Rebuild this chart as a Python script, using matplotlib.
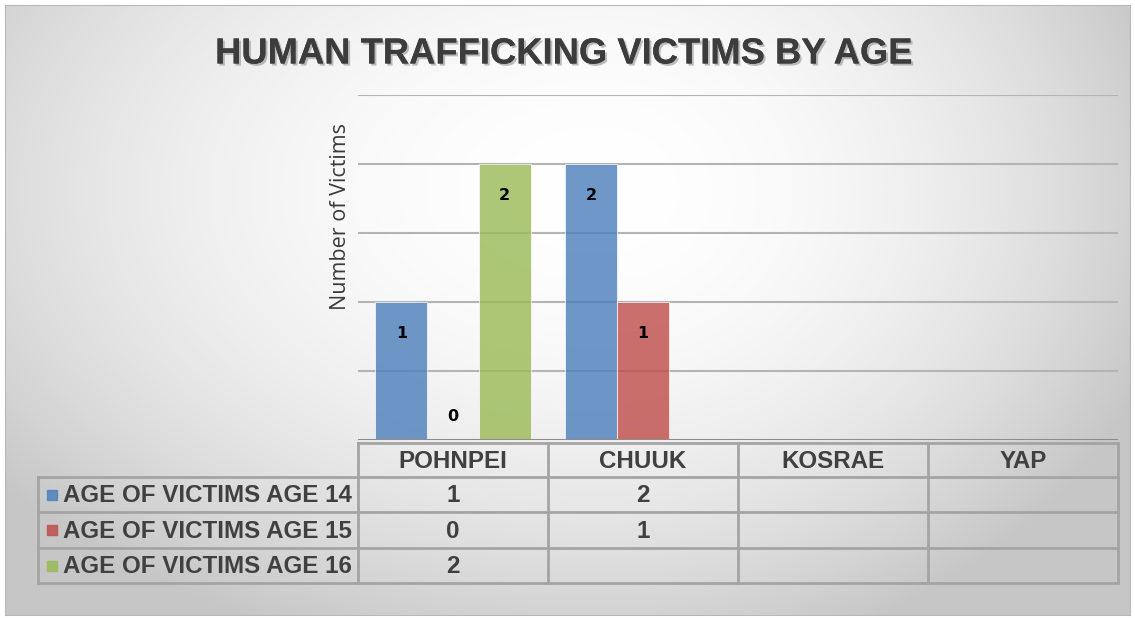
import numpy as np
import matplotlib
matplotlib.use('Agg')
import matplotlib.pyplot as plt
import matplotlib.patheffects as pe
from matplotlib.lines import Line2D
from matplotlib.patches import Rectangle

# data
regions = ['POHNPEI', 'CHUUK', 'KOSRAE', 'YAP']
series_names = ['AGE OF VICTIMS AGE 14', 'AGE OF VICTIMS AGE 15', 'AGE OF VICTIMS AGE 16']
age14 = [1, 2, None, None]
age15 = [0, 1, None, None]
age16 = [2, None, None, None]
colors = ['#4F81BD', '#C0504D', '#9BBB59']

W, H = 1135, 618
fig = plt.figure(figsize=(W / 100, H / 100), dpi=100)

def fx(x):
    return x / W

def fy(y):
    return 1 - y / H

# gradient background
bg = fig.add_axes([fx(5), fy(615), fx(1125), 610 / H], zorder=-10)
yy, xx = np.mgrid[5:615, 5:1130]
rx = np.where(xx < 600, 820.0, 640.0)
r2 = ((xx - 600) / rx) ** 2 + ((yy - 190) / 520.0) ** 2
g = np.clip(255 - 66 * r2, 198, 255) / 255.0
bg.imshow(np.dstack([g, g, g]), aspect='auto', extent=[0, 1, 0, 1])
bg.set_xticks([])
bg.set_yticks([])
for s in bg.spines.values():
    s.set_color('#b8b8b8')

ax = fig.add_axes([fx(358), fy(440), fx(1118 - 358), (440 - 95) / H])
ax.patch.set_alpha(0)
ax.set_xlim(-0.5, 3.5)
ax.set_ylim(0, 2.5)
ax.set_yticks(np.arange(0.5, 2.6, 0.5))
ax.yaxis.grid(True, color='#b4b4b4', linewidth=1.5)
ax.set_axisbelow(True)
ax.tick_params(left=False, bottom=False, labelleft=False, labelbottom=False)
for s in ax.spines.values():
    s.set_visible(False)
ax.axhline(0, color='#8c8c8c', linewidth=2.2, zorder=5)

x = np.arange(len(regions))
bw = 0.272
all_series = [age14, age15, age16]
for i, vals in enumerate(all_series):
    v = np.array([np.nan if a is None else a for a in vals], dtype=float)
    pos = x + (i - 1) * bw
    ax.bar(pos, v, bw, color=colors[i], alpha=0.82, edgecolor='white', linewidth=0.6, zorder=3)
    for px, val in zip(pos, v):
        if np.isnan(val):
            continue
        off = -23 if val > 0 else 17
        ax.annotate(f'{int(val)}', (px, val), xytext=(0, off), textcoords='offset points',
                    ha='center', va='center', fontsize=11.5, fontweight='bold', color='black',
                    family='DejaVu Sans', zorder=6)

fig.text(fx(340), fy(216), 'Number of Victims', rotation=90, ha='center', va='center',
         fontsize=15.5, family='Open Sans', color='#3a3a3a')

fig.text(fx(563), fy(54), 'HUMAN TRAFFICKING VICTIMS BY AGE', ha='center', va='center',
         fontsize=26.2, fontweight='heavy', family='Liberation Sans', color='#3c3c3c',
         path_effects=[pe.withSimplePatchShadow(offset=(1.5, -1.5), shadow_rgbFace='#808080', alpha=0.5),
                       pe.Normal()])

# data table under the axis
fig.canvas.draw()
edges = [ax.transData.transform((c, 0))[0] for c in np.arange(-0.5, len(regions), 1.0)]
row_y = [443, 477, 512, 548, 583]
lc = '#a4a4a4'
lw = 2.0

def hline(x0, x1, y):
    fig.add_artist(Line2D([fx(x0), fx(x1)], [fy(y), fy(y)], color=lc, linewidth=lw))

def vline(x, y0, y1):
    fig.add_artist(Line2D([fx(x), fx(x)], [fy(y0), fy(y1)], color=lc, linewidth=lw))

left = 38
hline(edges[0], edges[-1], row_y[0])
for y in row_y[1:]:
    hline(left, edges[-1], y)
for e in edges:
    vline(e, row_y[0], row_y[-1])
vline(left, row_y[1], row_y[-1])

tfont = dict(family='Liberation Sans', fontweight='bold', color='#404040', fontsize=17.4)
for j, name in enumerate(regions):
    fig.text(fx((edges[j] + edges[j + 1]) / 2), fy((row_y[0] + row_y[1]) / 2 + 1), name,
             ha='center', va='center', **tfont)
for i, vals in enumerate(all_series):
    yc = (row_y[i + 1] + row_y[i + 2]) / 2
    fig.add_artist(Rectangle((fx(47), fy(yc + 5)), 10 / W, 10 / H, color=colors[i], alpha=0.85))
    fig.text(fx(63), fy(yc + 1), series_names[i], ha='left', va='center', **tfont)
    for j, v in enumerate(vals):
        if v is None:
            continue
        fig.text(fx((edges[j] + edges[j + 1]) / 2), fy(yc + 1), str(v), ha='center', va='center', **tfont)

fig.savefig('out.png', dpi=100)
